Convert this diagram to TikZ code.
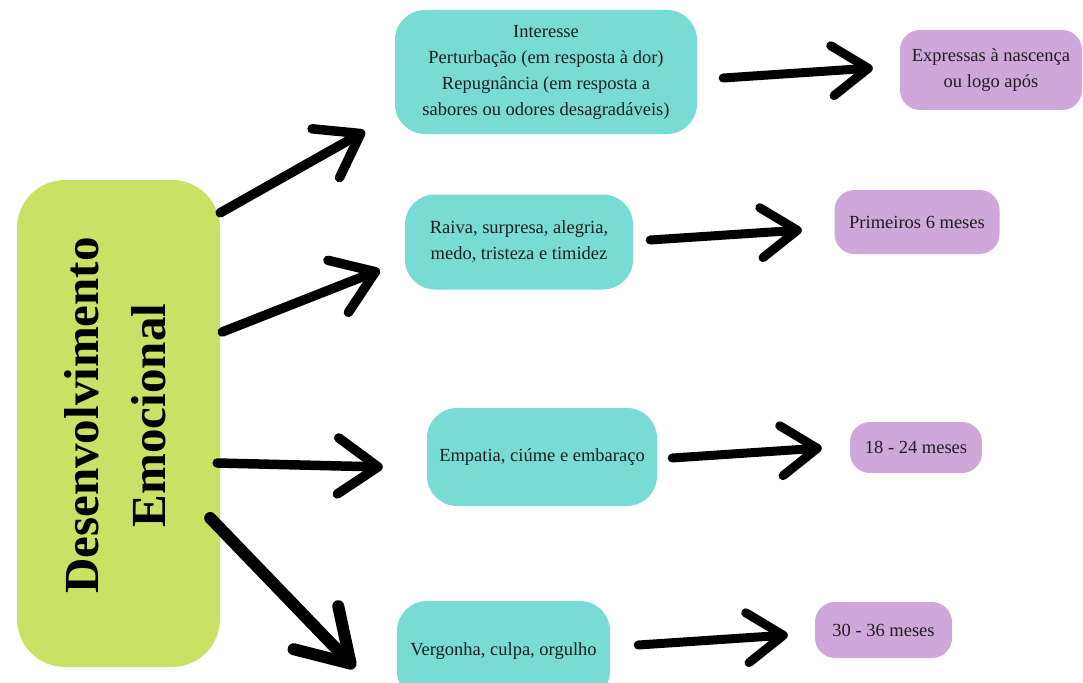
\documentclass[tikz,border=0pt]{standalone}
\usepackage{fontspec}
\setmainfont{Liberation Serif}
\usetikzlibrary{arrows.meta,calc}
\definecolor{cyanbox}{HTML}{78DCD5}
\definecolor{greenbox}{HTML}{C9E265}
\definecolor{purplebox}{HTML}{CFA7DA}
\definecolor{txt}{HTML}{1E1E1E}
\begin{document}
\begin{tikzpicture}[x=1pt,y=-1pt,
  box/.style={rectangle, rounded corners=30pt, inner sep=0pt, align=center, text=txt,
    font=\fontsize{18.5}{26}\selectfont},
  cbox/.style={box, fill=cyanbox},
  pbox/.style={box, fill=purplebox, rounded corners=20pt},
  arr/.style={line width=9.5pt, line cap=round,
    -{Straight Barb[length=40pt,width=56pt,round]}},
  arrs/.style={line width=9pt, line cap=round,
    -{Straight Barb[length=36pt,width=50pt,round]}},
  arrb/.style={line width=12pt, line cap=round,
    -{Straight Barb[length=50pt,width=62pt,round]}},
  ]
\useasboundingbox (0,0) rectangle (1083,682);
\clip (0,0) rectangle (1083,682);

% main box
\node[rectangle, rounded corners=48pt, fill=greenbox, minimum width=203pt, minimum height=487pt]
  (g) at (118.5,423.5) {};
\node[rotate=90, align=center, text=black, inner sep=0pt,
  font=\bfseries\fontsize{49}{67}\selectfont] (gt) at ($(g.center)+(-3,-8)$)
  {Desenvolvimento\\Emocional};

% cyan boxes
\node[cbox, minimum width=302pt, minimum height=124pt] (c1) at (546,72)
  {Interesse\\Perturbação (em resposta à dor)\\Repugnância (em resposta a\\sabores ou odores desagradáveis)};
\node[cbox, minimum width=228pt, minimum height=95pt] (c2) at (519,242)
  {Raiva, surpresa, alegria,\\medo, tristeza e timidez};
\node[cbox, minimum width=230pt, minimum height=98pt] (c3) at (542,457)
  {Empatia, ciúme e embaraço};
\node[cbox, minimum width=213pt, minimum height=100pt] (c4) at (503.5,651)
  {Vergonha, culpa, orgulho};

% purple boxes
\node[pbox, minimum width=182pt, minimum height=80pt] (p1) at (991,70)
  {Expressas à nascença\\ou logo após};
\node[pbox, minimum width=165pt, minimum height=64pt] (p2) at (917,222)
  {Primeiros 6 meses};
\node[pbox, minimum width=132pt, minimum height=51pt] (p3) at (916,447.5)
  {18 - 24 meses};
\node[pbox, minimum width=137pt, minimum height=56pt] (p4) at (883.5,630)
  {30 - 36 meses};

% arrows from main box
\draw[arr] ($(g.north east)+(0,33)$) -- ($(c1.south west)+(-30,-3)$);
\draw[arr] ($(g.east)+(2,-91.5)$) -- ($(c2.west)+(-25,28)$);
\draw[arr] ($(g.east)+(-3,39.5)$) -- ($(c3.west)+(-44,10)$);
\draw[arrb] ($(g.east)+(-10,94.5)$) -- ($(c4.west)+(-42,17)$);

% arrows to age boxes
\draw[arrs] ($(c1.east)+(26,6)$) -- ($(p1.west)+(-27,-2)$);
\draw[arrs] ($(c2.east)+(17,-2)$) -- ($(p2.west)+(-32.5,8)$);
\draw[arrs] ($(c3.east)+(15,1)$) -- ($(p3.west)+(-28,0.5)$);
\draw[arrs] ($(c4.east)+(28,-6)$) -- ($(p4.west)+(-27,5)$);
\end{tikzpicture}
\end{document}
